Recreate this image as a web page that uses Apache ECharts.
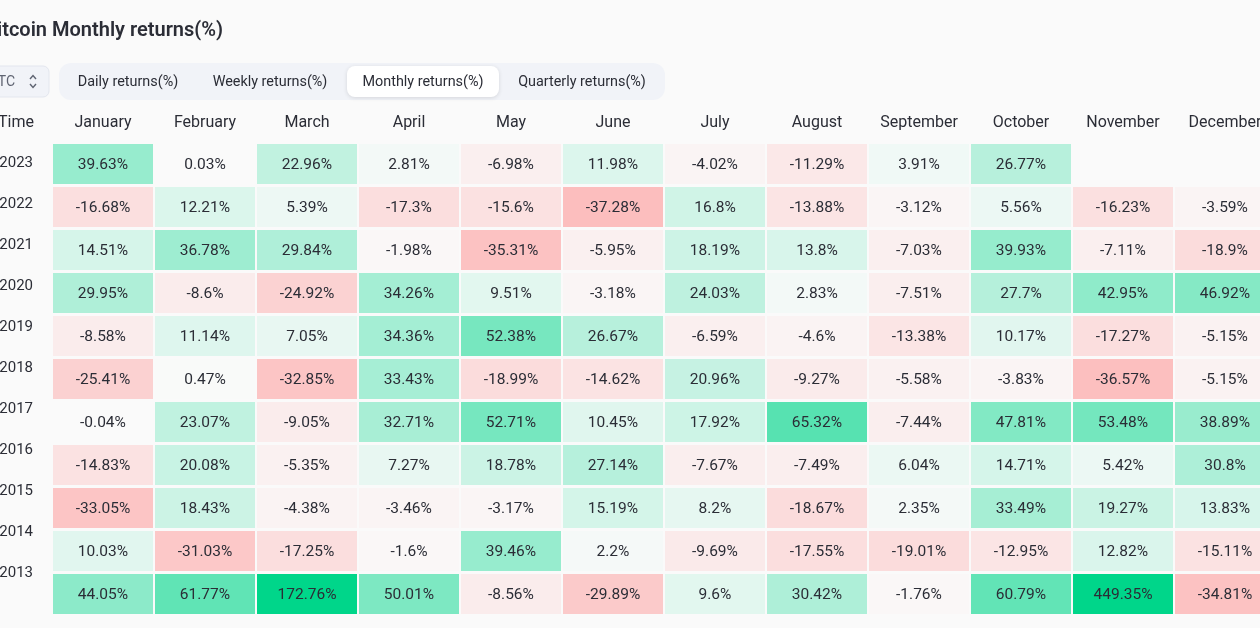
<!DOCTYPE html>
<html>
<head>
<meta charset="utf-8">
<title>Bitcoin Monthly returns(%)</title>
<script src="https://cdn.jsdelivr.net/npm/echarts@6/dist/echarts.min.js"></script>
<style>
html, body { margin: 0; padding: 0; background: #fafafa; overflow: hidden; }
#chart { width: 1260px; height: 628px; }
</style>
</head>
<body>
<div id="chart"></div>
<script>
var months = ['January', 'February', 'March', 'April', 'May', 'June', 'July', 'August', 'September', 'October', 'November', 'December'];
var years = ['2023', '2022', '2021', '2020', '2019', '2018', '2017', '2016', '2015', '2014', '2013'];
var tabs = ['Daily returns(%)', 'Weekly returns(%)', 'Monthly returns(%)', 'Quarterly returns(%)'];

var r2023 = [39.63, 0.03, 22.96, 2.81, -6.98, 11.98, -4.02, -11.29, 3.91, 26.77, null, null];
var r2022 = [-16.68, 12.21, 5.39, -17.3, -15.6, -37.28, 16.8, -13.88, -3.12, 5.56, -16.23, -3.59];
var r2021 = [14.51, 36.78, 29.84, -1.98, -35.31, -5.95, 18.19, 13.8, -7.03, 39.93, -7.11, -18.9];
var r2020 = [29.95, -8.6, -24.92, 34.26, 9.51, -3.18, 24.03, 2.83, -7.51, 27.7, 42.95, 46.92];
var r2019 = [-8.58, 11.14, 7.05, 34.36, 52.38, 26.67, -6.59, -4.6, -13.38, 10.17, -17.27, -5.15];
var r2018 = [-25.41, 0.47, -32.85, 33.43, -18.99, -14.62, 20.96, -9.27, -5.58, -3.83, -36.57, -5.15];
var r2017 = [-0.04, 23.07, -9.05, 32.71, 52.71, 10.45, 17.92, 65.32, -7.44, 47.81, 53.48, 38.89];
var r2016 = [-14.83, 20.08, -5.35, 7.27, 18.78, 27.14, -7.67, -7.49, 6.04, 14.71, 5.42, 30.8];
var r2015 = [-33.05, 18.43, -4.38, -3.46, -3.17, 15.19, 8.2, -18.67, 2.35, 33.49, 19.27, 13.83];
var r2014 = [10.03, -31.03, -17.25, -1.6, 39.46, 2.2, -9.69, -17.55, -19.01, -12.95, 12.82, -15.11];
var r2013 = [44.05, 61.77, 172.76, 50.01, -8.56, -29.89, 9.6, 30.42, -1.76, 60.79, 449.35, -34.81];
var rows = [r2023, r2022, r2021, r2020, r2019, r2018, r2017, r2016, r2015, r2014, r2013];

var textColor = '#2b2d36';
var fontName = 'Roboto';

// [month, year, value], empty months are left out
var cells = [];
rows.forEach(function (row, y) {
    row.forEach(function (v, x) {
        if (v !== null) {
            cells.push([x, y, v]);
        }
    });
});

function cellColor(v) {
    var t = Math.min(Math.abs(v) / 100, 1);
    return echarts.color.lerp(t, v < 0 ? ['#fafafa', '#ff5a5a'] : ['#fafafa', '#00d68a']);
}

function renderCell(params, api) {
    var v = api.value(2);
    var c = api.coord([api.value(0), api.value(1)]);
    var band = api.size([1, 1]);
    var w = band[0] - 2;
    var h = band[1] - 3;
    return {
        type: 'group',
        children: [{
            type: 'rect',
            shape: { x: c[0] - w / 2, y: c[1] - h / 2, width: w, height: h },
            style: { fill: cellColor(v) }
        }, {
            type: 'text',
            style: {
                x: c[0],
                y: c[1] + 1,
                text: v + '%',
                fill: textColor,
                font: '15.5px ' + fontName,
                textAlign: 'center',
                textVerticalAlign: 'middle'
            }
        }]
    };
}

// tabs and title sit around the chart, so they are plain graphic elements
var tabX = [128, 270, 423, 582];
var graphics = [
    { type: 'text', x: 223, y: 31, style: { text: 'Bitcoin Monthly returns(%)', fill: textColor, font: '600 20px Roboto', textAlign: 'right', textVerticalAlign: 'middle' } },
    { type: 'rect', shape: { x: -20, y: 66, width: 69, height: 31, r: 6 }, style: { fill: '#f1f3f8', stroke: '#e3e6ee', lineWidth: 1 } },
    { type: 'text', x: 15, y: 82, style: { text: 'BTC', fill: '#5f6472', font: '14px ' + fontName, textAlign: 'right', textVerticalAlign: 'middle' } },
    { type: 'polyline', shape: { points: [[30, 79], [33, 75.5], [36, 79]] }, style: { stroke: '#5f6472', fill: null, lineWidth: 1.4 } },
    { type: 'polyline', shape: { points: [[30, 84], [33, 87.5], [36, 84]] }, style: { stroke: '#5f6472', fill: null, lineWidth: 1.4 } },
    { type: 'rect', shape: { x: 59, y: 63, width: 606, height: 37, r: 12 }, style: { fill: '#f1f3f8' } },
    { type: 'rect', shape: { x: 347, y: 66, width: 152, height: 31, r: 8 }, style: { fill: '#ffffff', shadowBlur: 4, shadowColor: 'rgba(0,0,0,0.12)', shadowOffsetY: 1 } },
    { type: 'text', x: 34, y: 123, style: { text: 'Time', fill: textColor, font: '16px ' + fontName, textAlign: 'right', textVerticalAlign: 'middle' } }
];
tabs.forEach(function (name, i) {
    graphics.push({ type: 'text', x: tabX[i], y: 82, style: { text: name, fill: textColor, font: '14.4px ' + fontName, textAlign: 'center', textVerticalAlign: 'middle' } });
});

var myChart = echarts.init(document.getElementById('chart'), null, { renderer: 'canvas' });
myChart.setOption({
    backgroundColor: '#fafafa',
    animation: false,
    graphic: { elements: graphics },
    grid: [
        { left: 52, top: 142.5, width: 1224, height: 473, outerBoundsMode: 'none' },
        // the year column runs on a slightly tighter step than the table rows
        { left: 33, top: 142.5, width: 1, height: 451, outerBoundsMode: 'none' }
    ],
    xAxis: [{
        type: 'category',
        gridIndex: 0,
        position: 'top',
        data: months,
        axisLine: { show: false },
        axisTick: { show: false },
        splitLine: { show: false },
        axisLabel: { interval: 0, margin: 12, color: textColor, fontFamily: fontName, fontSize: 16 }
    }, {
        type: 'category',
        gridIndex: 1,
        show: false,
        data: ['']
    }],
    yAxis: [{
        type: 'category',
        gridIndex: 0,
        inverse: true,
        show: false,
        data: years
    }, {
        type: 'category',
        gridIndex: 1,
        inverse: true,
        data: years,
        axisLine: { show: false },
        axisTick: { show: false },
        splitLine: { show: false },
        axisLabel: { interval: 0, margin: 0, color: textColor, fontFamily: fontName, fontSize: 15 }
    }],
    series: [{
        type: 'custom',
        xAxisIndex: 0,
        yAxisIndex: 0,
        clip: false,
        renderItem: renderCell,
        encode: { x: 0, y: 1 },
        data: cells
    }]
});
</script>
</body>
</html>
